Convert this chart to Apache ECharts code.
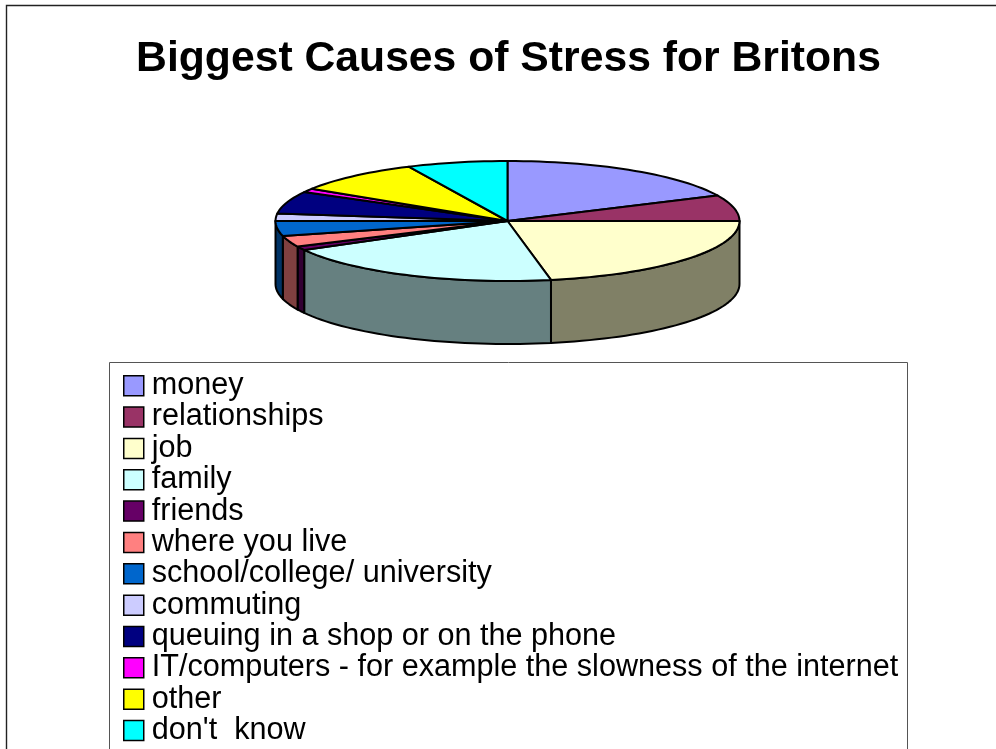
<!DOCTYPE html>
<html>
<head>
<meta charset="utf-8">
<style>html,body{margin:0;padding:0;background:#fff}#chart{width:996px;height:749px}</style>
<script src="https://cdn.jsdelivr.net/npm/echarts@6/dist/echarts.min.js"></script>
</head>
<body>
<div id="chart"></div>
<script>
const titleText = 'Biggest Causes of Stress for Britons';
const categories = ['money', 'relationships', 'job', 'family', 'friends', 'where you live',
  'school/college/ university', 'commuting', 'queuing in a shop or on the phone',
  'IT/computers - for example the slowness of the internet', 'other', "don't  know"];
const shares = [18, 7, 22, 20, 1, 3, 4, 2, 6, 1, 9, 7];
const palette = ['#9999FF', '#993366', '#FFFFCC', '#CCFFFF', '#660066', '#FF8080',
  '#0066CC', '#CCCCFF', '#000080', '#FF00FF', '#FFFF00', '#00FFFF'];

// Tilted disc geometry
const disc = { cx: 507.5, cy: 221, rx: 232, ry: 60, depth: 63 };
const OUTLINE = 2;

function rimPoint(deg, drop) {
  const a = deg * Math.PI / 180;
  return [disc.cx + disc.rx * Math.sin(a), disc.cy - disc.ry * Math.cos(a) + drop];
}
function arc(from, to, drop) {
  const pts = [];
  const steps = Math.max(1, Math.ceil((to - from) / 2));
  for (let i = 0; i <= steps; i++) pts.push(rimPoint(from + (to - from) * i / steps, drop));
  return pts;
}
function halfShade(hex) {
  const n = parseInt(hex.slice(1), 16);
  const c = [n >> 16, (n >> 8) & 255, n & 255].map(v => Math.round(v / 2));
  return 'rgb(' + c.join(',') + ')';
}

const total = shares.reduce((a, b) => a + b, 0);
let running = 0;
const series = categories.map((name, i) => {
  const before = running;
  running += shares[i];
  return {
    type: 'custom',
    name: name,
    coordinateSystem: 'none',
    silent: true,
    itemStyle: { color: palette[i] },
    data: [[before, shares[i]]],
    renderItem: function (params, api) {
      const t0 = api.value(0) / total * 360;
      const t1 = (api.value(0) + api.value(1)) / total * 360;
      const children = [];
      // Side wall: only the part of the rim that faces the viewer
      const w0 = Math.max(t0, 90), w1 = Math.min(t1, 270);
      if (w1 > w0) {
        const wall = arc(w0, w1, 0).concat(arc(w0, w1, disc.depth).reverse());
        children.push({
          type: 'polygon',
          shape: { points: wall },
          style: { fill: halfShade(palette[i]), stroke: '#000', lineWidth: OUTLINE, lineJoin: 'round' }
        });
      }
      // Top face
      children.push({
        type: 'polygon',
        shape: { points: [[disc.cx, disc.cy]].concat(arc(t0, t1, 0)) },
        style: { fill: palette[i], stroke: '#000', lineWidth: OUTLINE, lineJoin: 'round' }
      });
      return { type: 'group', children: children };
    }
  };
});

const chart = echarts.init(document.getElementById('chart'), null, { renderer: 'canvas' });
chart.setOption({
  animation: false,
  backgroundColor: '#fff',
  title: {
    text: titleText,
    left: 508.5,
    top: 38,
    padding: 0,
    textAlign: 'center',
    textStyle: { fontFamily: 'Liberation Sans', fontWeight: 'bold', fontSize: 42.7, color: '#000' }
  },
  graphic: [
    { type: 'rect', z: -10, silent: true, shape: { x: 6.5, y: 5.5, width: 1400, height: 1400 },
      style: { fill: 'none', stroke: '#222', lineWidth: 1.4 } },
    { type: 'rect', z: -9, silent: true, shape: { x: 109.5, y: 362.5, width: 798, height: 800 },
      style: { fill: 'none', stroke: '#555', lineWidth: 1 } }
  ],
  legend: {
    data: categories,
    orient: 'vertical',
    left: 123,
    top: 370,
    padding: 0,
    icon: 'rect',
    itemWidth: 20,
    itemHeight: 20,
    itemGap: 0,
    align: 'left',
    selectedMode: false,
    itemStyle: { borderColor: '#000', borderWidth: 1.5 },
    textStyle: { fontFamily: 'Liberation Sans', fontSize: 30.6, color: '#000',
      lineHeight: 27.35, padding: [0, 0, 4, 3] }
  },
  series: series
});
</script>
</body>
</html>
